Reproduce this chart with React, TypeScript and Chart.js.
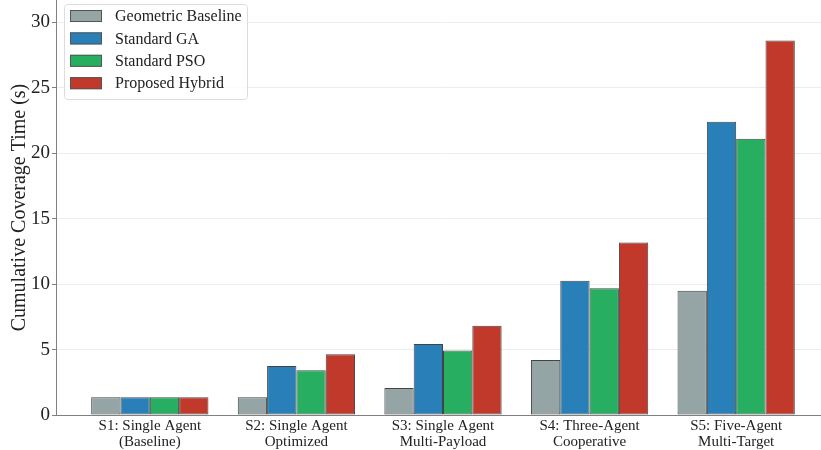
import { useEffect, useRef } from "react";
import { Chart, registerables } from "chart.js";

Chart.register(...registerables);

// Scenario names (two lines each) and cumulative coverage time per method, in seconds
const scenarios: string[][] = [
  ["S1: Single Agent", "(Baseline)"],
  ["S2: Single Agent", "Optimized"],
  ["S3: Single Agent", "Multi-Payload"],
  ["S4: Three-Agent", "Cooperative"],
  ["S5: Five-Agent", "Multi-Target"],
];
const geometricBaseline = [1.35, 1.35, 2.07, 4.2, 9.5];
const standardGA = [1.35, 3.75, 5.43, 10.25, 22.4];
const standardPSO = [1.35, 3.42, 4.92, 9.69, 21.1];
const proposedHybrid = [1.35, 4.64, 6.81, 13.18, 28.6];
const yTicks = [0, 5, 10, 15, 20, 25, 30];

const SERIF = "'Liberation Serif', 'Times New Roman', serif";
const TEXT = "#222222";

// Legend drawn as a framed box in the upper-left of the plot area
const boxedLegend = {
  id: "boxedLegend",
  afterDatasetsDraw(chart: Chart) {
    const ctx = chart.ctx;
    const area = chart.chartArea;
    const x0 = area.left + 8;
    const y0 = area.top + 4;
    const w = 183;
    const h = 95;
    ctx.save();
    ctx.beginPath();
    ctx.roundRect(x0 + 0.5, y0 + 0.5, w, h, 3);
    ctx.fillStyle = "rgba(255,255,255,0.85)";
    ctx.fill();
    ctx.strokeStyle = "#dcdcdc";
    ctx.lineWidth = 1;
    ctx.stroke();
    ctx.font = `16px ${SERIF}`;
    ctx.textBaseline = "middle";
    ctx.textAlign = "left";
    chart.data.datasets.forEach((ds: any, i: number) => {
      const cy = y0 + 12 + i * 22.4;
      ctx.fillStyle = ds.backgroundColor;
      ctx.fillRect(x0 + 6, cy - 6, 32, 12);
      ctx.strokeStyle = "#555555";
      ctx.lineWidth = 1;
      ctx.strokeRect(x0 + 6.5, cy - 5.5, 31, 11);
      ctx.fillStyle = TEXT;
      ctx.fillText(ds.label, x0 + 51, cy + 1);
    });
    ctx.restore();
  },
};

export default function App() {
  const canvasRef = useRef<HTMLCanvasElement | null>(null);

  useEffect(() => {
    const canvas = canvasRef.current;
    if (!canvas) return;
    const series = [
      { label: "Geometric Baseline", data: geometricBaseline, color: "#95a5a6" },
      { label: "Standard GA", data: standardGA, color: "#2980b9" },
      { label: "Standard PSO", data: standardPSO, color: "#27ae60" },
      { label: "Proposed Hybrid", data: proposedHybrid, color: "#c0392b" },
    ];
    const chart = new Chart(canvas, {
      type: "bar",
      data: {
        datasets: series.map((s) => ({
          label: s.label,
          data: s.data.map((v, i) => ({ x: i, y: v })),
          backgroundColor: s.color,
          borderColor: "#444444",
          borderWidth: 1,
          borderSkipped: false,
          categoryPercentage: 0.8,
          barPercentage: 1.0,
        })),
      },
      options: {
        animation: false,
        responsive: false,
        maintainAspectRatio: false,
        layout: { padding: { left: 0, top: 0, right: 10, bottom: 0 } },
        plugins: { legend: { display: false }, tooltip: { enabled: false } },
        scales: {
          x: {
            type: "linear",
            offset: false,
            min: -0.64,
            max: 4.64,
            grid: { display: false, drawTicks: false },
            border: { display: true, color: "#808080", width: 1 },
            ticks: {
              padding: 3,
              color: TEXT,
              font: { family: SERIF, size: 15, lineHeight: 1.05 },
              maxRotation: 0,
              autoSkip: false,
              callback: (v: any) => scenarios[Number(v)] ?? "",
            },
            afterBuildTicks: (scale: any) => {
              scale.ticks = scenarios.map((_, i) => ({ value: i }));
            },
            afterFit: (scale: any) => {
              scale.height = 35;
              scale.paddingLeft = 0;
              scale.paddingRight = 0;
            },
          },
          y: {
            type: "linear",
            min: 0,
            max: 31.7,
            grid: {
              color: "#ececec",
              lineWidth: 1,
              drawTicks: true,
              tickLength: 4,
              tickColor: "#808080",
            },
            border: { display: true, color: "#808080", width: 1 },
            ticks: {
              padding: 2,
              color: TEXT,
              font: { family: SERIF, size: 19 },
            },
            afterBuildTicks: (scale: any) => {
              scale.ticks = yTicks.map((v) => ({ value: v }));
            },
            afterFit: (scale: any) => {
              scale.width = 56;
              scale.paddingTop = 0;
              scale.paddingBottom = 0;
            },
            title: {
              display: true,
              text: "Cumulative Coverage Time (s)",
              color: TEXT,
              font: { family: SERIF, size: 20 },
              padding: { top: 8, bottom: 0 },
            },
          },
        },
      },
      plugins: [boxedLegend],
    });
    return () => chart.destroy();
  }, []);

  return (
    <div
      style={{
        position: "fixed",
        left: 0,
        top: 0,
        width: 821,
        height: 450,
        overflow: "hidden",
        background: "#ffffff",
      }}
    >
      <canvas ref={canvasRef} width={840} height={450} style={{ display: "block" }} />
    </div>
  );
}
